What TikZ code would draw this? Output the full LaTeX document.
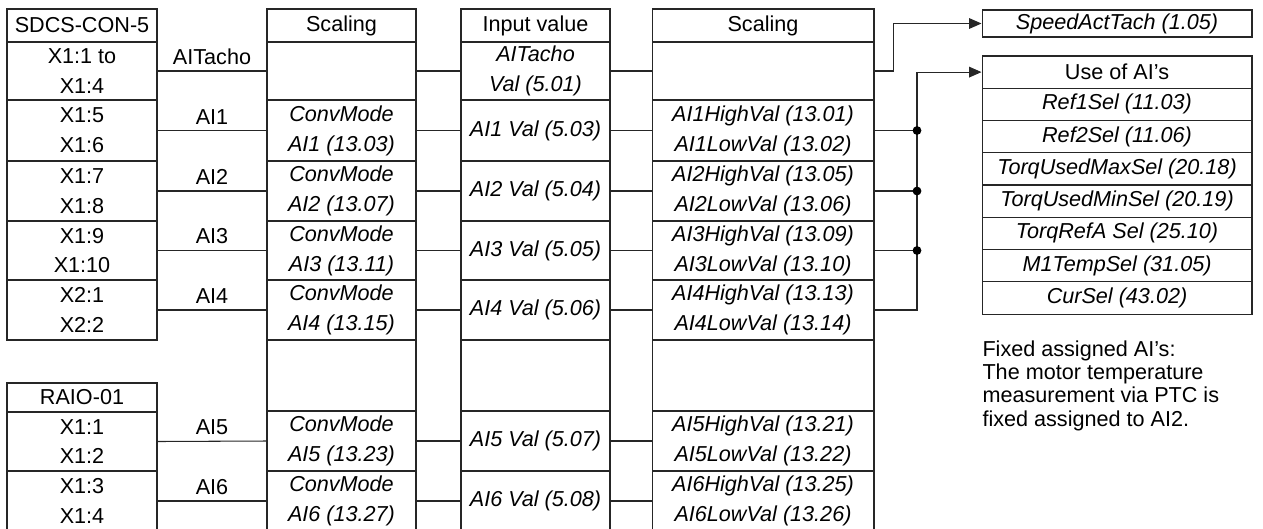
\documentclass[tikz,border=0pt]{standalone}
\usepackage{fontspec}
\setmainfont{Liberation Sans}
\usepackage{tikz}
\usetikzlibrary{arrows.meta,positioning}

\begin{document}
\begin{tikzpicture}[
  x=0.02cm, y=-0.02cm, line width=0.6pt,
  cell/.style={draw=black!85, inner sep=0pt, align=center,
    font=\fontsize{12.3}{17}\selectfont},
  icell/.style={cell, font=\fontsize{12.3}{17}\selectfont\itshape},
  lab/.style={font=\fontsize{12.3}{17}\selectfont},
  conn/.style={draw=black!85},
  arrow/.style={-{Triangle[length=7pt, width=6pt]}, black!85},
  dot/.style={circle, fill=black, inner sep=0pt, minimum size=5pt}
]
\useasboundingbox (0,0) rectangle (1263,528);

% terminals
\foreach \r/\yc/\h/\txt in {aH/25.5/33/SDCS-CON-5, a0/71/58/{X1:1 to\\X1:4},
    a1/130.5/61/{X1:5\\X1:6}, a2/191/60/{X1:7\\X1:8},
    a3/250.5/59/{X1:9\\X1:10}, a4/310/60/{X2:1\\X2:2},
    bH/397.5/29/RAIO-01, a5/441.5/59/{X1:1\\X1:2}, a6/501/60/{X1:3\\X1:4}}
  \node[cell, minimum width=3cm, minimum height=\h*0.02cm] (\r) at (82,\yc) {\txt};

% scaling, input value, scaling
\node[cell, minimum width=2.98cm, minimum height=33*0.02cm] (sH) at (341.5,25.5) {Scaling};
\node[cell, minimum width=2.98cm, minimum height=33*0.02cm] (vH) at (535.5,25.5) {Input value};
\node[cell, minimum width=4.44cm, minimum height=33*0.02cm] (tH) at (763,25.5) {Scaling};
\foreach \r/\yc/\h/\txa/\txb/\txc in {
  0/71/58/{}/{AITacho\\Val (5.01)}/{},
  1/130.5/61/{ConvMode\\AI1 (13.03)}/{AI1 Val (5.03)}/{AI1HighVal (13.01)\\AI1LowVal (13.02)},
  2/191/60/{ConvMode\\AI2 (13.07)}/{AI2 Val (5.04)}/{AI2HighVal (13.05)\\AI2LowVal (13.06)},
  3/250.5/59/{ConvMode\\AI3 (13.11)}/{AI3 Val (5.05)}/{AI3HighVal (13.09)\\AI3LowVal (13.10)},
  4/310/60/{ConvMode\\AI4 (13.15)}/{AI4 Val (5.06)}/{AI4HighVal (13.13)\\AI4LowVal (13.14)},
  g/375.5/71/{}/{}/{},
  5/441/60/{ConvMode\\AI5 (13.23)}/{AI5 Val (5.07)}/{AI5HighVal (13.21)\\AI5LowVal (13.22)},
  6/501/60/{ConvMode\\AI6 (13.27)}/{AI6 Val (5.08)}/{AI6HighVal (13.25)\\AI6LowVal (13.26)}} {
  \node[icell, minimum width=2.98cm, minimum height=\h*0.02cm] (s\r) at (341.5,\yc) {\txa};
  \node[icell, minimum width=2.98cm, minimum height=\h*0.02cm] (v\r) at (535.5,\yc) {\txb};
  \node[icell, minimum width=4.44cm, minimum height=\h*0.02cm] (t\r) at (763,\yc) {\txc};
}

% use of AI's
\node[cell, minimum width=5.4cm, minimum height=32.25*0.02cm] (uH) at (1117,72.1) {Use of AI's};
\foreach \r/\yc/\txt in {u1/104.4/{Ref1Sel (11.03)},
    u2/136.6/{Ref2Sel (11.06)}, u3/168.9/{TorqUsedMaxSel (20.18)},
    u4/201.1/{TorqUsedMinSel (20.19)}, u5/233.4/{TorqRefA Sel (25.10)},
    u6/265.6/{M1TempSel (31.05)}, u7/297.9/{CurSel (43.02)}}
  \node[icell, minimum width=5.4cm, minimum height=32.25*0.02cm] (\r) at (1117,\yc) {\txt};

\node[icell, minimum width=5.4cm, minimum height=27*0.02cm] (speed) at (1117,23.5)
  {SpeedActTach (1.05)};

% connections
\foreach \r/\lbl in {0/AITacho,1/AI1,2/AI2,3/AI3,4/AI4,5/AI5,6/AI6} {
  \draw[conn] (a\r.east) -- node[lab, above] (l\r) {\lbl} (s\r.west);
  \draw[conn] (s\r.east) -- (v\r.west);
  \draw[conn] (v\r.east) -- (t\r.west);
}

\draw[arrow] (t0.east) -- ++(19,0) |- (speed.west);

\coordinate (bus) at (917,0);
\draw[arrow] (t4.east) -| (bus |- uH.west) -- (uH.west);
\foreach \r in {1,2,3}
  \draw[conn] (t\r.east) -- (t\r.east -| bus) node[dot] (d\r) {};

\node[anchor=north west, inner sep=0pt, align=left,
  font=\fontsize{12.3}{13.3}\selectfont] (note) at (982,340)
  {Fixed assigned AI's:\\The motor temperature\\measurement via PTC is\\fixed assigned to AI2.};

\end{tikzpicture}
\end{document}
